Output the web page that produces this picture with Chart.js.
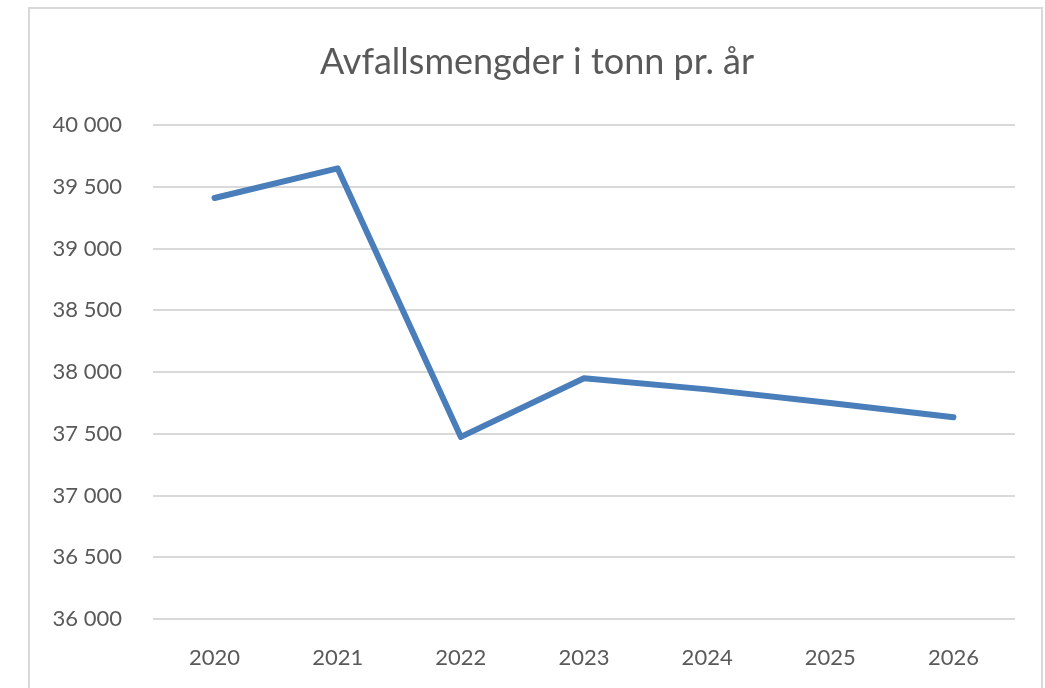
<!DOCTYPE html>
<html>
<head>
<meta charset="utf-8">
<script src="https://cdn.jsdelivr.net/npm/chart.js@4"></script>
<style>
    html, body { margin: 0; padding: 0; background: #ffffff; overflow: hidden; }
    #frame {
        position: absolute; left: 28px; top: 7px;
        width: 1011px; height: 700px;
        border: 2px solid #d9d9d9;
    }
    #wrap { position: absolute; left: 0; top: 0; width: 1045px; height: 688px; }
</style>
</head>
<body>
<div id="frame"></div>
<div id="wrap"><canvas id="myChart" width="1045" height="688"></canvas></div>
<script>
// Chart data
const years = ["2020", "2021", "2022", "2023", "2024", "2025", "2026"];
const tonnes = [39410, 39650, 37475, 37950, 37860, 37750, 37635];
const yMin = 36000;
const yMax = 40000;
const yStep = 500;

/**
 * Formats a number with a space as thousands separator (Norwegian style).
 */
function formatTonnes(value) {
    const thousands = Math.floor(value / 1000);
    const rest = String(value % 1000).padStart(3, '0');
    return thousands + ' ' + rest;
}

const labelColor = '#595959';
const fontFamily = 'Lato, "Open Sans", sans-serif';

// Centre the title on the whole frame rather than on the plot area
const centreTitle = {
    id: 'centreTitle',
    afterLayout(chart) {
        if (chart.titleBlock) {
            chart.titleBlock.left = 59;
            chart.titleBlock.right = 1015;
        }
    },
};

const ctx = document.getElementById('myChart').getContext('2d');

new Chart(ctx, {
    type: 'line',
    data: {
        labels: years,
        datasets: [{
            label: 'Avfallsmengder',
            data: tonnes,
            borderColor: '#4a7ebb',
            backgroundColor: '#4a7ebb',
            borderWidth: 6,
            borderCapStyle: 'round',
            borderJoinStyle: 'round',
            pointRadius: 0,
            pointHoverRadius: 0,
            tension: 0,
            fill: false,
        }],
    },
    options: {
        responsive: false,
        animation: false,
        layout: {
            padding: { left: 0, right: 30, top: 0, bottom: 0 },
        },
        scales: {
            x: {
                offset: true,
                grid: { display: false, drawTicks: false },
                border: { display: false },
                ticks: {
                    color: labelColor,
                    padding: 26,
                    font: { family: fontFamily, size: 22 },
                },
                afterFit: (scale) => { scale.height = 69; },
            },
            y: {
                min: yMin,
                max: yMax,
                grid: { color: '#d9d9d9', lineWidth: 2, drawTicks: false },
                border: { display: false },
                ticks: {
                    stepSize: yStep,
                    color: labelColor,
                    padding: 31,
                    font: { family: fontFamily, size: 22 },
                    callback: (value) => formatTonnes(value),
                },
                afterFit: (scale) => { scale.width = 153; },
            },
        },
        plugins: {
            legend: { display: false },
            tooltip: { enabled: false },
            title: {
                display: true,
                text: 'Avfallsmengder i tonn pr. år',
                color: labelColor,
                font: { family: fontFamily, size: 36, weight: 'normal' },
                padding: { top: 41, bottom: 41 },
            },
        },
    },
    plugins: [centreTitle],
});
</script>
</body>
</html>
